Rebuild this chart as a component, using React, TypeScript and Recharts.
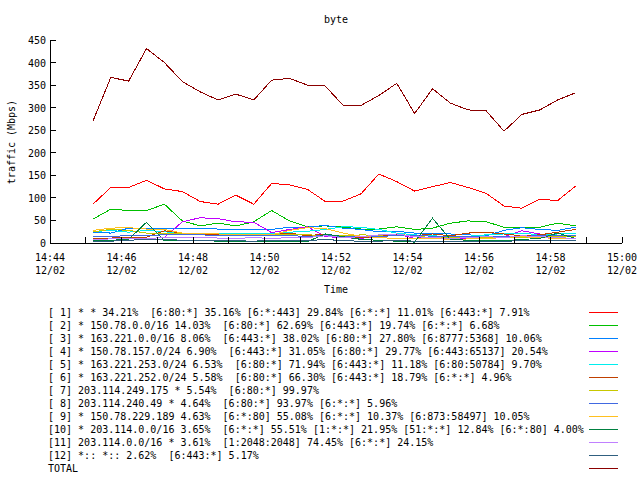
import React from "react";
import { LineChart, Line, XAxis, YAxis } from "recharts";

// sample times (30 s steps)
const times = [
  "14:45:12", "14:45:42", "14:46:12", "14:46:42", "14:47:12", "14:47:42", "14:48:12",
  "14:48:42", "14:49:12", "14:49:42", "14:50:12", "14:50:42", "14:51:12", "14:51:42",
  "14:52:12", "14:52:42", "14:53:12", "14:53:42", "14:54:12", "14:54:42", "14:55:12",
  "14:55:42", "14:56:12", "14:56:42", "14:57:12", "14:57:42", "14:58:12", "14:58:42",
];

// traffic in Mbps per series
const s1 = [86, 123, 123, 139, 120, 114, 92, 86, 106, 86, 132, 129, 119, 92, 93, 109, 153, 136, 115, 125, 134, 123, 110, 82, 77, 97, 94, 126];
const s2 = [53, 75, 72, 72, 86, 49, 38, 44, 38, 47, 72, 49, 36, 38, 35, 31, 31, 36, 30, 33, 44, 49, 47, 35, 35, 35, 44, 38];
const s3 = [24, 22, 33, 33, 33, 32, 32, 31, 31, 31, 30, 35, 35, 39, 33, 30, 25, 26, 22, 22, 20, 18, 16, 28, 34, 30, 28, 35];
const s4 = [8, 10, 11, 10, 12, 47, 56, 54, 47, 46, 23, 30, 36, 14, 12, 10, 16, 20, 10, 14, 12, 10, 12, 14, 27, 20, 16, 14];
const s5 = [25, 28, 24, 28, 25, 21, 20, 22, 20, 22, 20, 24, 26, 30, 36, 35, 30, 22, 18, 16, 14, 15, 18, 20, 22, 18, 20, 22];
const s6 = [10, 11, 12, 13, 27, 22, 20, 18, 17, 16, 18, 22, 16, 20, 14, 12, 15, 18, 16, 20, 16, 22, 24, 20, 16, 18, 24, 30];
const s7 = [25, 30, 28, 22, 20, 22, 20, 20, 19, 19, 19, 18, 18, 17, 16, 18, 17, 20, 15, 12, 12, 14, 12, 12, 12, 13, 15, 14];
const s8 = [15, 15, 16, 17, 18, 18, 18, 17, 17, 16, 16, 16, 15, 16, 15, 15, 15, 16, 17, 15, 14, 14, 14, 14, 15, 16, 17, 17];
const s9 = [28, 33, 34, 31, 30, 22, 20, 20, 18, 18, 18, 28, 34, 32, 22, 15, 12, 10, 10, 10, 8, 9, 10, 12, 14, 12, 10, 10];
const s10 = [5, 6, 8, 46, 5, 5, 6, 4, 3, 3, 4, 4, 3, 20, 14, 8, 6, 4, 2, 55, 8, 6, 5, 5, 8, 10, 22, 10];
const s11 = [8, 9, 10, 10, 12, 12, 12, 11, 10, 12, 10, 12, 12, 16, 12, 14, 18, 20, 14, 12, 10, 12, 14, 12, 16, 14, 12, 10];
const s12 = [4, 4, 6, 8, 8, 6, 5, 6, 5, 4, 6, 5, 5, 8, 5, 4, 4, 6, 4, 4, 3, 3, 3, 4, 5, 6, 5, 5];
const total = [270, 367, 359, 431, 400, 358, 335, 317, 330, 317, 361, 365, 350, 348, 305, 305, 327, 354, 287, 342, 310, 295, 293, 248, 285, 295, 317, 333];

const seriesNames = [
  "[ 1] * * 34.21%  [6:80:*] 35.16% [6:*:443] 29.84% [6:*:*] 11.01% [6:443:*] 7.91%",
  "[ 2] * 150.78.0.0/16 14.03%  [6:80:*] 62.69% [6:443:*] 19.74% [6:*:*] 6.68%",
  "[ 3] * 163.221.0.0/16 8.06%  [6:443:*] 38.02% [6:80:*] 27.80% [6:8777:5368] 10.06%",
  "[ 4] * 150.78.157.0/24 6.90%  [6:443:*] 31.05% [6:80:*] 29.77% [6:443:65137] 20.54%",
  "[ 5] * 163.221.253.0/24 6.53%  [6:80:*] 71.94% [6:443:*] 11.18% [6:80:50784] 9.70%",
  "[ 6] * 163.221.252.0/24 5.58%  [6:80:*] 66.30% [6:443:*] 18.79% [6:*:*] 4.96%",
  "[ 7] 203.114.249.175 * 5.54%  [6:80:*] 99.97%",
  "[ 8] 203.114.240.49 * 4.64%  [6:80:*] 93.97% [6:*:*] 5.96%",
  "[ 9] * 150.78.229.189 4.63%  [6:*:80] 55.08% [6:*:*] 10.37% [6:873:58497] 10.05%",
  "[10] * 203.114.0.0/16 3.65%  [6:*:*] 55.51% [1:*:*] 21.95% [51:*:*] 12.84% [6:*:80] 4.00%",
  "[11] 203.114.0.0/16 * 3.61%  [1:2048:2048] 74.45% [6:*:*] 24.15%",
  "[12] *:: *:: 2.62%  [6:443:*] 5.17%",
  "TOTAL",
];

const seriesColors = [
  "#ff0000", "#00c000", "#0080ff", "#c000ff", "#00eeee", "#c04000", "#c8c800",
  "#4169e1", "#ffc020", "#008040", "#c080ff", "#306080", "#8b0000",
];

const xTickTimes = [
  "14:44", "14:45", "14:46", "14:47", "14:48", "14:49", "14:50", "14:51", "14:52",
  "14:53", "14:54", "14:55", "14:56", "14:57", "14:58", "14:59", "15:00",
];
const dateLabel = "12/02";
const yTicks = [0, 50, 100, 150, 200, 250, 300, 350, 400, 450];

const FONT = "'DejaVu Sans Mono', 'Liberation Mono', monospace";

// minutes since the first tick (14:44)
function toMinutes(t: string): number {
  const [h, m, s] = t.split(":").map(Number);
  const [h0, m0] = xTickTimes[0].split(":").map(Number);
  return h * 60 + m + (s || 0) / 60 - (h0 * 60 + m0);
}

const allSeries = [s1, s2, s3, s4, s5, s6, s7, s8, s9, s10, s11, s12, total];
const xTicks = xTickTimes.map(toMinutes);

const data = times.map((t, i) => {
  const row: Record<string, number> = { t: toMinutes(t) };
  allSeries.forEach((vals, k) => {
    row["s" + k] = vals[i];
  });
  return row;
});

function BottomTick({ x, y, payload }: any) {
  const idx = xTicks.indexOf(payload.value);
  const showLabel = idx % 2 === 0;
  return (
    <g>
      <line x1={x} y1={y} x2={x} y2={y - 6} stroke="#000" />
      {showLabel && (
        <text x={x} y={y + 18} textAnchor="middle" fontFamily={FONT} fontSize={10} fill="#000">
          {xTickTimes[idx]}
        </text>
      )}
      {showLabel && (
        <text x={x} y={y + 31} textAnchor="middle" fontFamily={FONT} fontSize={10} fill="#000">
          {dateLabel}
        </text>
      )}
    </g>
  );
}

function TopTick({ x, y }: any) {
  return <line x1={x} y1={y} x2={x} y2={y + 6} stroke="#000" />;
}

function LeftTick({ x, y, payload }: any) {
  return (
    <g>
      <line x1={x} y1={y} x2={x + 6} y2={y} stroke="#000" />
      <text x={x - 4} y={y + 4} textAnchor="end" fontFamily={FONT} fontSize={10} fill="#000">
        {payload.value}
      </text>
    </g>
  );
}

function RightTick({ x, y }: any) {
  return <line x1={x} y1={y} x2={x - 6} y2={y} stroke="#000" />;
}

const textStyle: React.CSSProperties = {
  position: "absolute",
  fontFamily: FONT,
  fontSize: 10,
  lineHeight: "13px",
  whiteSpace: "pre",
  color: "#000",
};

export default function App() {
  return (
    <div
      style={{
        position: "absolute",
        left: 0,
        top: 0,
        width: 640,
        height: 480,
        background: "#fff",
        shapeRendering: "crispEdges",
      }}
    >
      <LineChart
        width={640}
        height={480}
        data={data}
        margin={{ top: 40, right: 18, bottom: 187, left: 0 }}
      >
        <XAxis
          dataKey="t"
          type="number"
          domain={[0, 16]}
          ticks={xTicks}
          interval={0}
          height={50}
          tickSize={0}
          tickMargin={0}
          tickLine={false}
          axisLine={{ stroke: "#000" }}
          tick={<BottomTick />}
        />
        <XAxis
          xAxisId="top"
          orientation="top"
          dataKey="t"
          type="number"
          domain={[0, 16]}
          ticks={xTicks}
          interval={0}
          height={0}
          tickSize={0}
          tickMargin={0}
          tickLine={false}
          axisLine={{ stroke: "#000" }}
          tick={<TopTick />}
        />
        <YAxis
          type="number"
          domain={[0, 450]}
          ticks={yTicks}
          interval={0}
          width={50}
          tickSize={0}
          tickMargin={0}
          tickLine={false}
          axisLine={{ stroke: "#000" }}
          tick={<LeftTick />}
        />
        <YAxis
          yAxisId="right"
          orientation="right"
          type="number"
          domain={[0, 450]}
          ticks={yTicks}
          interval={0}
          width={0}
          tickSize={0}
          tickMargin={0}
          tickLine={false}
          axisLine={{ stroke: "#000" }}
          tick={<RightTick />}
        />
        {allSeries.map((_, k) => (
          <Line
            key={k}
            type="linear"
            dataKey={"s" + k}
            stroke={seriesColors[k]}
            strokeWidth={1}
            dot={false}
            activeDot={false}
            isAnimationActive={false}
          />
        ))}
      </LineChart>

      <div style={{ ...textStyle, left: 0, width: 672, top: 13, textAlign: "center" }}>byte</div>
      <div style={{ ...textStyle, left: 0, width: 672, top: 283, textAlign: "center" }}>Time</div>
      <div
        style={{
          ...textStyle,
          left: 11,
          top: 142,
          transform: "translate(-50%, -50%) rotate(-90deg)",
        }}
      >
        traffic (Mbps)
      </div>

      {seriesNames.map((name, k) => (
        <React.Fragment key={k}>
          <div style={{ ...textStyle, left: 48, top: 306 + 13 * k }}>{name}</div>
          <div
            style={{
              position: "absolute",
              left: 589,
              width: 29,
              top: 312 + 13 * k,
              height: 1,
              background: seriesColors[k],
            }}
          />
        </React.Fragment>
      ))}
    </div>
  );
}
